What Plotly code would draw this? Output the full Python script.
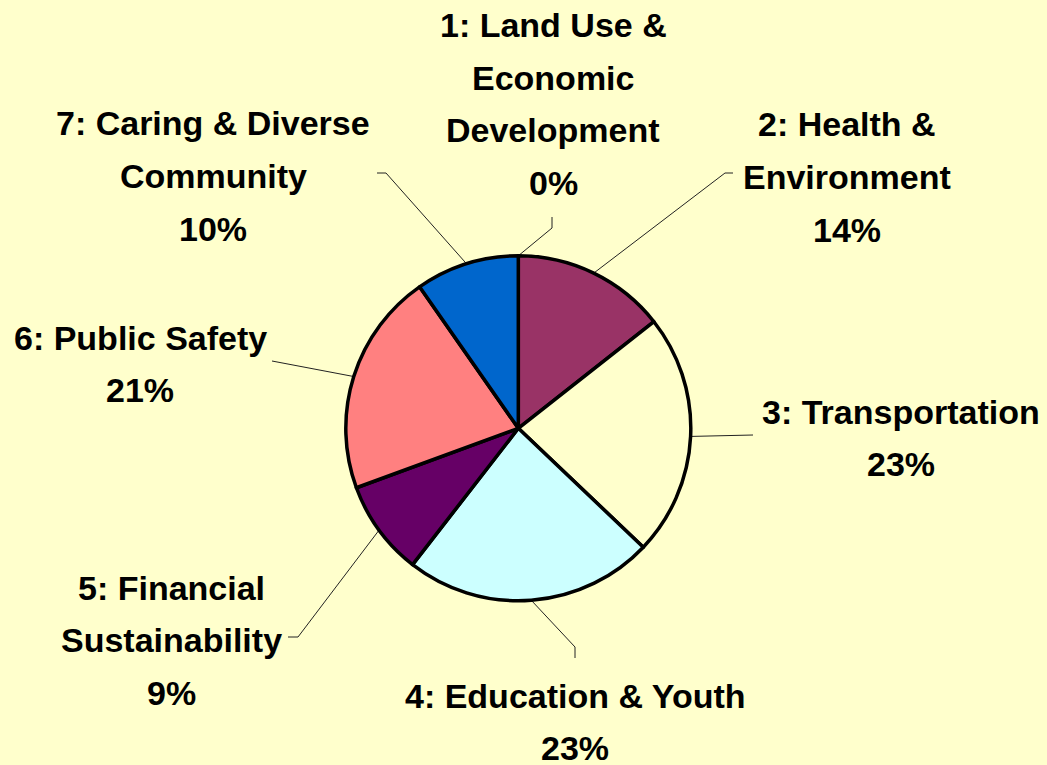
import math
import plotly.graph_objects as go

# ---- data ----
categories = [
    "1: Land Use &<br>Economic<br>Development",
    "2: Health &<br>Environment",
    "3: Transportation",
    "4: Education & Youth",
    "5: Financial<br>Sustainability",
    "6: Public Safety",
    "7: Caring & Diverse<br>Community",
]
values = [0, 14.4, 22.7, 23.4, 8.9, 20.9, 9.7]
colors = ["#9999FF", "#993366", "#FFFFCC", "#CCFFFF", "#660066", "#FF8080", "#0066CC"]

# ---- layout helpers (pixels) ----
W, H = 1047, 765
CX, CY, R = 518.3, 428.3, 172.5
LINE_GAP = 52.5
label_centers = [(553, 104), (847, 177), (901, 438), (575, 722), (172, 640), (140, 364), (213, 176)]
leader_elbow = [(552, 228), (725, 173), (753, 435), (575, 647), (298, 637), (275, 361), (386, 173)]
leader_end = [(552, 217), (733, 173), (753, 435), (575, 658), (288, 637), (272, 361), (377, 173)]
FONT = "Liberation Sans, Arial, sans-serif"
FSIZE = 34

fig = go.Figure()

fig.add_trace(go.Pie(
    labels=categories,
    values=values,
    sort=False,
    direction="clockwise",
    rotation=0,
    marker=dict(colors=colors, line=dict(color="black", width=3.5)),
    textinfo="none",
    hoverinfo="skip",
    showlegend=False,
    domain=dict(x=[(CX - R) / W, (CX + R) / W], y=[(H - CY - R) / H, (H - CY + R) / H]),
))

total = sum(values)
cum = 0.0
for i, v in enumerate(values):
    mid = (cum + v / 2) / total * 2 * math.pi
    cum += v
    sx = CX + R * math.sin(mid)
    sy = CY - R * math.cos(mid)
    ex, ey = leader_elbow[i]
    fx, fy = leader_end[i]
    fig.add_trace(go.Scatter(
        x=[sx, ex, fx], y=[sy, ey, fy], mode="lines",
        line=dict(color="#222222", width=1), hoverinfo="skip", showlegend=False,
        xaxis="x", yaxis="y",
    ))
    pct = round(v / total * 100)
    lines = categories[i].split("<br>") + [f"{pct}%"]
    lx, ly = label_centers[i]
    n = len(lines)
    for k, t in enumerate(lines):
        yk = ly + (k - (n - 1) / 2) * LINE_GAP
        fig.add_annotation(
            x=lx / W, y=1 - yk / H, xref="paper", yref="paper",
            text=f"<b>{t}</b>",
            showarrow=False, xanchor="center", yanchor="middle", align="center",
            font=dict(family=FONT, size=FSIZE, color="black"),
        )

fig.update_layout(
    width=W, height=H,
    margin=dict(l=0, r=0, t=0, b=0),
    paper_bgcolor="#FFFFCC",
    plot_bgcolor="rgba(0,0,0,0)",
    xaxis=dict(range=[0, W], visible=False, domain=[0, 1], fixedrange=True),
    yaxis=dict(range=[H, 0], visible=False, domain=[0, 1], fixedrange=True),
)

fig.write_html("out.html")
